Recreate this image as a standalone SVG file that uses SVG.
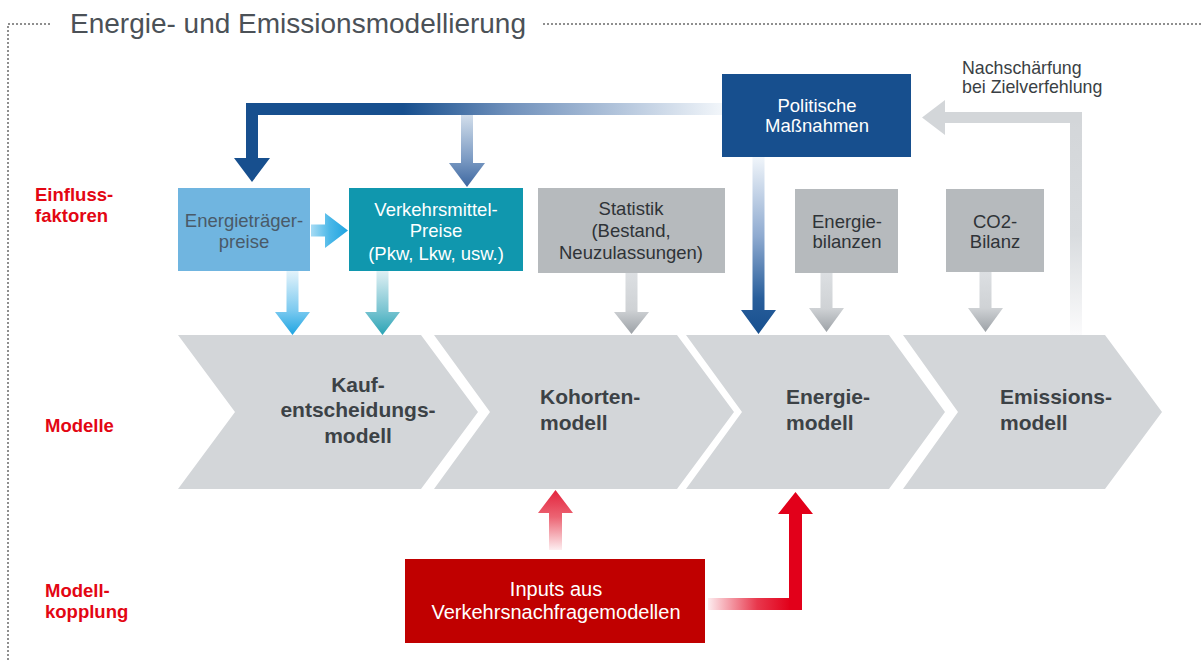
<svg xmlns="http://www.w3.org/2000/svg" width="1203" height="661" viewBox="0 0 1203 661">
<defs>
<style>
.frame{fill:none;stroke:#8f8f8f;stroke-width:2;stroke-dasharray:2 2}
.title{font-family:"Liberation Sans",Arial,sans-serif;font-size:28px;fill:#4b5157}
.lbl{font-family:"Liberation Sans",Arial,sans-serif;font-size:18.5px;font-weight:bold;fill:#e30613}
.bt{font-family:"Liberation Sans",Arial,sans-serif;font-size:18.5px;text-anchor:middle}
.ct{font-family:"Liberation Sans",Arial,sans-serif;font-size:21px;font-weight:bold;fill:#3c4246}
.note{font-family:"Liberation Sans",Arial,sans-serif;font-size:17.8px;fill:#3a3f44}
.chev{fill:#d3d6d9}
.gbox{fill:#b6babd}
</style>
<linearGradient id="gGrayDown" x1="0" y1="0" x2="0" y2="1">
<stop offset="0" stop-color="#dcdfe2"/><stop offset="0.6" stop-color="#cfd2d5"/><stop offset="1" stop-color="#9ca1a6"/>
</linearGradient>
<linearGradient id="gLightBlueDown" x1="0" y1="0" x2="0" y2="1">
<stop offset="0" stop-color="#e3f3fb"/><stop offset="0.6" stop-color="#7fcbf0"/><stop offset="1" stop-color="#1ea5e2"/>
</linearGradient>
<linearGradient id="gTealDown" x1="0" y1="0" x2="0" y2="1">
<stop offset="0" stop-color="#dff0f4"/><stop offset="0.6" stop-color="#7cc5d2"/><stop offset="1" stop-color="#2aa4b5"/>
</linearGradient>
<linearGradient id="gRight" x1="0" y1="0" x2="1" y2="0">
<stop offset="0" stop-color="#a6dbf4"/><stop offset="0.5" stop-color="#4cb8e8"/><stop offset="1" stop-color="#1ea3e0"/>
</linearGradient>
<linearGradient id="gPolDown" x1="0" y1="0" x2="0" y2="1">
<stop offset="0" stop-color="#f0f5fa"/><stop offset="0.45" stop-color="#8eaad0"/><stop offset="0.8" stop-color="#285e9b"/><stop offset="1" stop-color="#174f8e"/>
</linearGradient>
<linearGradient id="gTopBar" gradientUnits="userSpaceOnUse" x1="246" y1="0" x2="722" y2="0">
<stop offset="0" stop-color="#174f8e"/><stop offset="0.33" stop-color="#174f8e"/><stop offset="0.55" stop-color="#6f90bb"/><stop offset="1" stop-color="#f2f6fa"/>
</linearGradient>
<linearGradient id="gMidDown" x1="0" y1="0" x2="0" y2="1">
<stop offset="0" stop-color="#d2deeb"/><stop offset="0.6" stop-color="#7d9cc4"/><stop offset="1" stop-color="#3d67a0"/>
</linearGradient>
<linearGradient id="gReturn" gradientUnits="userSpaceOnUse" x1="0" y1="112" x2="0" y2="335">
<stop offset="0" stop-color="#d3d6d9"/><stop offset="0.55" stop-color="#d9dcdf"/><stop offset="1" stop-color="#fbfbfc"/>
</linearGradient>
<linearGradient id="gRedUp" gradientUnits="userSpaceOnUse" x1="0" y1="550" x2="0" y2="490">
<stop offset="0" stop-color="#fdeef0"/><stop offset="0.55" stop-color="#ec6473"/><stop offset="1" stop-color="#e3233c"/>
</linearGradient>
<linearGradient id="gRedH" gradientUnits="userSpaceOnUse" x1="708" y1="0" x2="790" y2="0">
<stop offset="0" stop-color="#fdecef"/><stop offset="0.6" stop-color="#e8384d"/><stop offset="1" stop-color="#e2001a"/>
</linearGradient>
</defs>

<rect width="1203" height="661" fill="#ffffff"/>

<g id="frame">
<polyline class="frame" points="50,24 8,24 8,661"/>
<line class="frame" x1="543" y1="24" x2="1203" y2="24"/>
<text class="title" x="70" y="33">Energie- und Emissionsmodellierung</text>
</g>

<g id="row-labels">
<text class="lbl" x="35" y="201">Einfluss-</text>
<text class="lbl" x="35" y="222">faktoren</text>
<text class="lbl" x="45" y="432">Modelle</text>
<text class="lbl" x="45" y="597">Modell-</text>
<text class="lbl" x="45" y="618">kopplung</text>
</g>

<g id="model-kauf">
<polygon class="chev" points="178,335 421,335 478,412 421,489 178,489 235,412"/>
<text class="ct" x="358" y="392" text-anchor="middle">Kauf-</text>
<text class="ct" x="358" y="417" text-anchor="middle">entscheidungs-</text>
<text class="ct" x="358" y="443" text-anchor="middle">modell</text>
</g>
<g id="model-kohorten">
<polygon class="chev" points="434,335 677,335 734,412 677,489 434,489 490,412"/>
<text class="ct" x="540" y="404">Kohorten-</text>
<text class="ct" x="540" y="430">modell</text>
</g>
<g id="model-energie">
<polygon class="chev" points="686,335 889,335 945,412 889,489 686,489 742,412"/>
<text class="ct" x="786" y="404">Energie-</text>
<text class="ct" x="786" y="430">modell</text>
</g>
<g id="model-emissionen">
<polygon class="chev" points="903,335 1105,335 1162,412 1105,489 903,489 958,412"/>
<text class="ct" x="1000" y="404">Emissions-</text>
<text class="ct" x="1000" y="430">modell</text>
</g>

<g id="node-energietraegerpreise">
<rect x="178" y="188" width="132" height="83" fill="#70b5e0"/>
<text class="bt" x="244" y="227" fill="#4a5a68">Energieträger-</text>
<text class="bt" x="244" y="248" fill="#4a5a68">preise</text>
</g>
<g id="node-verkehrsmittelpreise">
<rect x="349" y="188" width="174" height="83" fill="#1097ae"/>
<text class="bt" x="436" y="216" fill="#ffffff">Verkehrsmittel-</text>
<text class="bt" x="436" y="237" fill="#ffffff">Preise</text>
<text class="bt" x="436" y="260" fill="#ffffff">(Pkw, Lkw, usw.)</text>
</g>
<g id="node-statistik">
<rect class="gbox" x="538" y="188" width="187" height="85"/>
<text class="bt" x="631" y="215" fill="#2f3337">Statistik</text>
<text class="bt" x="631" y="237" fill="#2f3337">(Bestand,</text>
<text class="bt" x="631" y="259" fill="#2f3337">Neuzulassungen)</text>
</g>
<g id="node-energiebilanzen">
<rect class="gbox" x="795" y="189" width="103" height="84"/>
<text class="bt" x="847" y="228" fill="#2f3337">Energie-</text>
<text class="bt" x="847" y="248" fill="#2f3337">bilanzen</text>
</g>
<g id="node-co2bilanz">
<rect class="gbox" x="946" y="189" width="98" height="83"/>
<text class="bt" x="995" y="228" fill="#2f3337">CO2-</text>
<text class="bt" x="995" y="248" fill="#2f3337">Bilanz</text>
</g>
<g id="node-politik">
<rect x="722" y="74" width="189" height="83" fill="#174f8e"/>
<text class="bt" x="817" y="112" fill="#ffffff">Politische</text>
<text class="bt" x="817" y="132" fill="#ffffff">Maßnahmen</text>
</g>
<g id="node-inputs">
<rect x="405" y="559" width="300" height="84" fill="#c00000"/>
<text class="bt" x="556" y="596" fill="#ffffff" style="font-size:20px">Inputs aus</text>
<text class="bt" x="556" y="619" fill="#ffffff" style="font-size:20px">Verkehrsnachfragemodellen</text>
</g>

<g id="note">
<text class="note" x="962" y="74">Nachschärfung</text>
<text class="note" x="962" y="93">bei Zielverfehlung</text>
</g>

<g id="connectors">
<rect x="246" y="103" width="476" height="12" fill="url(#gTopBar)"/>
<polygon points="246,103 258,103 258,158 270,158 252,182 234,158 246,158" fill="#174f8e"/>
<polygon points="461,115 473,115 473,163 485,163 467,187 449,163 461,163" fill="url(#gMidDown)"/>
<polygon points="311,224.5 325,224.5 325,213 348,230.5 325,248 325,236.5 311,236.5" fill="url(#gRight)"/>
<polygon points="286.5,271 298.5,271 298.5,312 310,312 292.5,335 275,312 286.5,312" fill="url(#gLightBlueDown)"/>
<polygon points="376.5,271 388.5,271 388.5,312 400,312 382.5,335 365,312 376.5,312" fill="url(#gTealDown)"/>
<polygon points="625.5,273 637.5,273 637.5,312 649,312 631.5,334 614,312 625.5,312" fill="url(#gGrayDown)"/>
<polygon points="752.5,157 764.5,157 764.5,310 776,310 758.5,334 741,310 752.5,310" fill="url(#gPolDown)"/>
<polygon points="820.5,273 832.5,273 832.5,308 844,308 826.5,332 809,308 820.5,308" fill="url(#gGrayDown)"/>
<polygon points="979.5,272 991.5,272 991.5,308 1003,308 985.5,332 968,308 979.5,308" fill="url(#gGrayDown)"/>
<rect x="1070" y="112" width="12" height="223" fill="url(#gReturn)"/>
<rect x="944" y="112" width="138" height="11" fill="#d3d6d9"/>
<polygon points="945,100 945,135 922,117.5" fill="#d3d6d9"/>
<polygon points="549,550 562,550 562,513 573,513 555.5,490 538,513 549,513" fill="url(#gRedUp)"/>
<rect x="708" y="598" width="94" height="12" fill="url(#gRedH)"/>
<polygon points="789,610 802,610 802,514 813,514 795.5,492 778,514 789,514" fill="#e2001a"/>
</g>
</svg>
